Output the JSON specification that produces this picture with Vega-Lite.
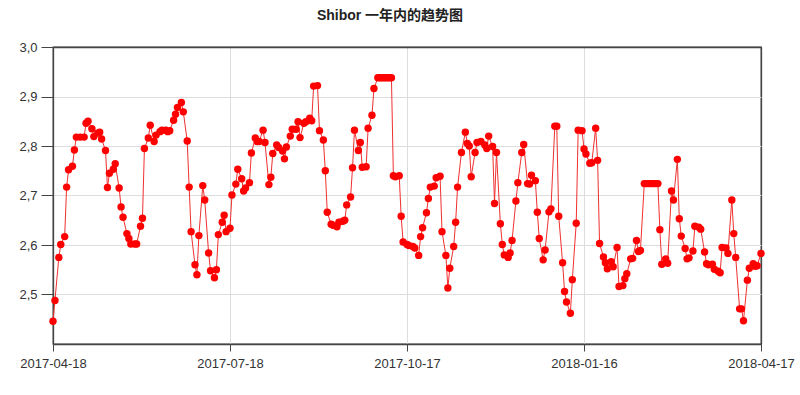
{
  "$schema": "https://vega.github.io/schema/vega-lite/v6.json",
  "autosize": "none",
  "width": 708,
  "height": 297,
  "padding": {"left": 53, "top": 47, "right": 39, "bottom": 51},
  "background": "#ffffff",
  "view": {"stroke": "#444444", "strokeWidth": 1.3},
  "title": {
    "text": "Shibor 一年内的趋势图",
    "font": "Liberation Sans, Noto Sans CJK SC",
    "fontSize": 14,
    "fontWeight": "bold",
    "color": "#222222",
    "anchor": "middle",
    "dx": -17,
    "offset": 18
  },
  "config": {
    "view": {"stroke": "#444444", "strokeWidth": 1.3},
    "axis": {
      "labelFont": "Liberation Sans",
      "labelFontSize": 13,
      "labelColor": "#333333",
      "domainColor": "#444444",
      "domainWidth": 1.3,
      "tickColor": "#444444",
      "gridColor": {"condition": {"test": "datum.index == 1", "value": "#444444"}, "value": "#dddddd"},
      "gridWidth": {"condition": {"test": "datum.index == 1", "value": 1.3}, "value": 1},
      "title": null
    }
  },
  "data": {
    "values": [
      {"date": "2017-04-18", "rate": 2.446},
      {"date": "2017-04-19", "rate": 2.488},
      {"date": "2017-04-21", "rate": 2.575},
      {"date": "2017-04-22", "rate": 2.601},
      {"date": "2017-04-24", "rate": 2.617},
      {"date": "2017-04-25", "rate": 2.717},
      {"date": "2017-04-26", "rate": 2.752},
      {"date": "2017-04-28", "rate": 2.759},
      {"date": "2017-04-29", "rate": 2.792},
      {"date": "2017-04-30", "rate": 2.818},
      {"date": "2017-05-02", "rate": 2.818},
      {"date": "2017-05-04", "rate": 2.818},
      {"date": "2017-05-05", "rate": 2.846},
      {"date": "2017-05-06", "rate": 2.850},
      {"date": "2017-05-08", "rate": 2.835},
      {"date": "2017-05-09", "rate": 2.819},
      {"date": "2017-05-11", "rate": 2.826},
      {"date": "2017-05-12", "rate": 2.828},
      {"date": "2017-05-13", "rate": 2.814},
      {"date": "2017-05-15", "rate": 2.791},
      {"date": "2017-05-16", "rate": 2.716},
      {"date": "2017-05-17", "rate": 2.745},
      {"date": "2017-05-19", "rate": 2.753},
      {"date": "2017-05-20", "rate": 2.764},
      {"date": "2017-05-22", "rate": 2.715},
      {"date": "2017-05-23", "rate": 2.677},
      {"date": "2017-05-24", "rate": 2.656},
      {"date": "2017-05-26", "rate": 2.623},
      {"date": "2017-05-27", "rate": 2.613},
      {"date": "2017-05-28", "rate": 2.602},
      {"date": "2017-05-30", "rate": 2.602},
      {"date": "2017-05-31", "rate": 2.602},
      {"date": "2017-06-02", "rate": 2.638},
      {"date": "2017-06-03", "rate": 2.654},
      {"date": "2017-06-04", "rate": 2.795},
      {"date": "2017-06-06", "rate": 2.816},
      {"date": "2017-06-07", "rate": 2.842},
      {"date": "2017-06-09", "rate": 2.809},
      {"date": "2017-06-10", "rate": 2.822},
      {"date": "2017-06-12", "rate": 2.829},
      {"date": "2017-06-13", "rate": 2.832},
      {"date": "2017-06-15", "rate": 2.832},
      {"date": "2017-06-16", "rate": 2.829},
      {"date": "2017-06-17", "rate": 2.831},
      {"date": "2017-06-19", "rate": 2.852},
      {"date": "2017-06-20", "rate": 2.864},
      {"date": "2017-06-21", "rate": 2.878},
      {"date": "2017-06-23", "rate": 2.888},
      {"date": "2017-06-24", "rate": 2.869},
      {"date": "2017-06-26", "rate": 2.810},
      {"date": "2017-06-27", "rate": 2.717},
      {"date": "2017-06-28", "rate": 2.627},
      {"date": "2017-06-30", "rate": 2.560},
      {"date": "2017-07-01", "rate": 2.540},
      {"date": "2017-07-02", "rate": 2.619},
      {"date": "2017-07-04", "rate": 2.720},
      {"date": "2017-07-05", "rate": 2.691},
      {"date": "2017-07-07", "rate": 2.584},
      {"date": "2017-07-08", "rate": 2.548},
      {"date": "2017-07-10", "rate": 2.534},
      {"date": "2017-07-11", "rate": 2.550},
      {"date": "2017-07-12", "rate": 2.621},
      {"date": "2017-07-14", "rate": 2.646},
      {"date": "2017-07-15", "rate": 2.660},
      {"date": "2017-07-16", "rate": 2.627},
      {"date": "2017-07-18", "rate": 2.634},
      {"date": "2017-07-19", "rate": 2.701},
      {"date": "2017-07-21", "rate": 2.723},
      {"date": "2017-07-22", "rate": 2.753},
      {"date": "2017-07-24", "rate": 2.734},
      {"date": "2017-07-25", "rate": 2.709},
      {"date": "2017-07-26", "rate": 2.715},
      {"date": "2017-07-28", "rate": 2.726},
      {"date": "2017-07-29", "rate": 2.786},
      {"date": "2017-07-31", "rate": 2.816},
      {"date": "2017-08-01", "rate": 2.809},
      {"date": "2017-08-02", "rate": 2.809},
      {"date": "2017-08-04", "rate": 2.832},
      {"date": "2017-08-05", "rate": 2.807},
      {"date": "2017-08-07", "rate": 2.722},
      {"date": "2017-08-08", "rate": 2.737},
      {"date": "2017-08-09", "rate": 2.785},
      {"date": "2017-08-11", "rate": 2.802},
      {"date": "2017-08-12", "rate": 2.797},
      {"date": "2017-08-14", "rate": 2.790},
      {"date": "2017-08-15", "rate": 2.774},
      {"date": "2017-08-16", "rate": 2.798},
      {"date": "2017-08-18", "rate": 2.820},
      {"date": "2017-08-19", "rate": 2.834},
      {"date": "2017-08-21", "rate": 2.834},
      {"date": "2017-08-22", "rate": 2.849},
      {"date": "2017-08-23", "rate": 2.817},
      {"date": "2017-08-25", "rate": 2.846},
      {"date": "2017-08-26", "rate": 2.849},
      {"date": "2017-08-28", "rate": 2.856},
      {"date": "2017-08-29", "rate": 2.851},
      {"date": "2017-08-30", "rate": 2.921},
      {"date": "2017-09-01", "rate": 2.922},
      {"date": "2017-09-02", "rate": 2.831},
      {"date": "2017-09-04", "rate": 2.812},
      {"date": "2017-09-05", "rate": 2.750},
      {"date": "2017-09-06", "rate": 2.666},
      {"date": "2017-09-08", "rate": 2.642},
      {"date": "2017-09-09", "rate": 2.640},
      {"date": "2017-09-11", "rate": 2.637},
      {"date": "2017-09-12", "rate": 2.646},
      {"date": "2017-09-14", "rate": 2.648},
      {"date": "2017-09-15", "rate": 2.650},
      {"date": "2017-09-16", "rate": 2.681},
      {"date": "2017-09-18", "rate": 2.697},
      {"date": "2017-09-19", "rate": 2.756},
      {"date": "2017-09-20", "rate": 2.832},
      {"date": "2017-09-22", "rate": 2.791},
      {"date": "2017-09-23", "rate": 2.807},
      {"date": "2017-09-24", "rate": 2.757},
      {"date": "2017-09-26", "rate": 2.758},
      {"date": "2017-09-27", "rate": 2.836},
      {"date": "2017-09-29", "rate": 2.862},
      {"date": "2017-09-30", "rate": 2.916},
      {"date": "2017-10-02", "rate": 2.938},
      {"date": "2017-10-03", "rate": 2.938},
      {"date": "2017-10-04", "rate": 2.938},
      {"date": "2017-10-05", "rate": 2.938},
      {"date": "2017-10-06", "rate": 2.938},
      {"date": "2017-10-07", "rate": 2.938},
      {"date": "2017-10-08", "rate": 2.938},
      {"date": "2017-10-09", "rate": 2.938},
      {"date": "2017-10-10", "rate": 2.740},
      {"date": "2017-10-11", "rate": 2.738},
      {"date": "2017-10-13", "rate": 2.740},
      {"date": "2017-10-14", "rate": 2.658},
      {"date": "2017-10-15", "rate": 2.606},
      {"date": "2017-10-17", "rate": 2.601},
      {"date": "2017-10-18", "rate": 2.599},
      {"date": "2017-10-20", "rate": 2.597},
      {"date": "2017-10-21", "rate": 2.594},
      {"date": "2017-10-23", "rate": 2.579},
      {"date": "2017-10-24", "rate": 2.617},
      {"date": "2017-10-25", "rate": 2.635},
      {"date": "2017-10-27", "rate": 2.665},
      {"date": "2017-10-28", "rate": 2.694},
      {"date": "2017-10-29", "rate": 2.717},
      {"date": "2017-10-31", "rate": 2.719},
      {"date": "2017-11-01", "rate": 2.736},
      {"date": "2017-11-03", "rate": 2.739},
      {"date": "2017-11-04", "rate": 2.627},
      {"date": "2017-11-06", "rate": 2.579},
      {"date": "2017-11-07", "rate": 2.513},
      {"date": "2017-11-08", "rate": 2.553},
      {"date": "2017-11-10", "rate": 2.597},
      {"date": "2017-11-11", "rate": 2.646},
      {"date": "2017-11-12", "rate": 2.717},
      {"date": "2017-11-14", "rate": 2.787},
      {"date": "2017-11-16", "rate": 2.828},
      {"date": "2017-11-17", "rate": 2.805},
      {"date": "2017-11-18", "rate": 2.800},
      {"date": "2017-11-19", "rate": 2.738},
      {"date": "2017-11-21", "rate": 2.787},
      {"date": "2017-11-22", "rate": 2.807},
      {"date": "2017-11-24", "rate": 2.809},
      {"date": "2017-11-26", "rate": 2.802},
      {"date": "2017-11-27", "rate": 2.795},
      {"date": "2017-11-28", "rate": 2.820},
      {"date": "2017-11-30", "rate": 2.799},
      {"date": "2017-12-01", "rate": 2.684},
      {"date": "2017-12-02", "rate": 2.787},
      {"date": "2017-12-04", "rate": 2.643},
      {"date": "2017-12-05", "rate": 2.601},
      {"date": "2017-12-06", "rate": 2.580},
      {"date": "2017-12-08", "rate": 2.575},
      {"date": "2017-12-09", "rate": 2.584},
      {"date": "2017-12-10", "rate": 2.609},
      {"date": "2017-12-12", "rate": 2.689},
      {"date": "2017-12-13", "rate": 2.726},
      {"date": "2017-12-15", "rate": 2.787},
      {"date": "2017-12-16", "rate": 2.803},
      {"date": "2017-12-18", "rate": 2.724},
      {"date": "2017-12-19", "rate": 2.723},
      {"date": "2017-12-20", "rate": 2.741},
      {"date": "2017-12-22", "rate": 2.730},
      {"date": "2017-12-23", "rate": 2.666},
      {"date": "2017-12-24", "rate": 2.613},
      {"date": "2017-12-26", "rate": 2.570},
      {"date": "2017-12-27", "rate": 2.590},
      {"date": "2017-12-29", "rate": 2.667},
      {"date": "2017-12-30", "rate": 2.673},
      {"date": "2018-01-01", "rate": 2.840},
      {"date": "2018-01-02", "rate": 2.840},
      {"date": "2018-01-03", "rate": 2.658},
      {"date": "2018-01-05", "rate": 2.564},
      {"date": "2018-01-06", "rate": 2.506},
      {"date": "2018-01-07", "rate": 2.485},
      {"date": "2018-01-09", "rate": 2.462},
      {"date": "2018-01-10", "rate": 2.530},
      {"date": "2018-01-12", "rate": 2.644},
      {"date": "2018-01-13", "rate": 2.832},
      {"date": "2018-01-15", "rate": 2.831},
      {"date": "2018-01-16", "rate": 2.794},
      {"date": "2018-01-17", "rate": 2.784},
      {"date": "2018-01-19", "rate": 2.765},
      {"date": "2018-01-20", "rate": 2.766},
      {"date": "2018-01-22", "rate": 2.836},
      {"date": "2018-01-23", "rate": 2.771},
      {"date": "2018-01-24", "rate": 2.603},
      {"date": "2018-01-26", "rate": 2.576},
      {"date": "2018-01-27", "rate": 2.564},
      {"date": "2018-01-28", "rate": 2.552},
      {"date": "2018-01-30", "rate": 2.566},
      {"date": "2018-01-31", "rate": 2.556},
      {"date": "2018-02-02", "rate": 2.595},
      {"date": "2018-02-03", "rate": 2.516},
      {"date": "2018-02-05", "rate": 2.518},
      {"date": "2018-02-06", "rate": 2.532},
      {"date": "2018-02-07", "rate": 2.542},
      {"date": "2018-02-09", "rate": 2.572},
      {"date": "2018-02-10", "rate": 2.573},
      {"date": "2018-02-12", "rate": 2.609},
      {"date": "2018-02-13", "rate": 2.587},
      {"date": "2018-02-14", "rate": 2.589},
      {"date": "2018-02-16", "rate": 2.724},
      {"date": "2018-02-17", "rate": 2.724},
      {"date": "2018-02-18", "rate": 2.724},
      {"date": "2018-02-19", "rate": 2.724},
      {"date": "2018-02-20", "rate": 2.724},
      {"date": "2018-02-21", "rate": 2.724},
      {"date": "2018-02-22", "rate": 2.724},
      {"date": "2018-02-23", "rate": 2.724},
      {"date": "2018-02-24", "rate": 2.631},
      {"date": "2018-02-25", "rate": 2.561},
      {"date": "2018-02-27", "rate": 2.572},
      {"date": "2018-02-28", "rate": 2.563},
      {"date": "2018-03-02", "rate": 2.709},
      {"date": "2018-03-03", "rate": 2.691},
      {"date": "2018-03-05", "rate": 2.773},
      {"date": "2018-03-06", "rate": 2.653},
      {"date": "2018-03-07", "rate": 2.618},
      {"date": "2018-03-09", "rate": 2.593},
      {"date": "2018-03-10", "rate": 2.572},
      {"date": "2018-03-11", "rate": 2.574},
      {"date": "2018-03-13", "rate": 2.588},
      {"date": "2018-03-14", "rate": 2.638},
      {"date": "2018-03-16", "rate": 2.636},
      {"date": "2018-03-17", "rate": 2.632},
      {"date": "2018-03-19", "rate": 2.586},
      {"date": "2018-03-20", "rate": 2.562},
      {"date": "2018-03-21", "rate": 2.560},
      {"date": "2018-03-23", "rate": 2.561},
      {"date": "2018-03-24", "rate": 2.551},
      {"date": "2018-03-26", "rate": 2.547},
      {"date": "2018-03-27", "rate": 2.544},
      {"date": "2018-03-28", "rate": 2.595},
      {"date": "2018-03-30", "rate": 2.594},
      {"date": "2018-03-31", "rate": 2.583},
      {"date": "2018-04-02", "rate": 2.691},
      {"date": "2018-04-03", "rate": 2.623},
      {"date": "2018-04-04", "rate": 2.575},
      {"date": "2018-04-06", "rate": 2.471},
      {"date": "2018-04-07", "rate": 2.471},
      {"date": "2018-04-08", "rate": 2.447},
      {"date": "2018-04-10", "rate": 2.529},
      {"date": "2018-04-11", "rate": 2.553},
      {"date": "2018-04-13", "rate": 2.562},
      {"date": "2018-04-14", "rate": 2.557},
      {"date": "2018-04-15", "rate": 2.558},
      {"date": "2018-04-17", "rate": 2.583}
    ]
  },
  "encoding": {
    "x": {
      "field": "date",
      "type": "temporal",
      "scale": {
        "type": "utc",
        "domain": [
          {"year": 2017, "month": 4, "date": 18, "utc": true},
          {"year": 2018, "month": 4, "date": 17, "utc": true}
        ],
        "nice": false
      },
      "axis": {
        "values": [
          {"year": 2017, "month": 4, "date": 18, "utc": true},
          {"year": 2017, "month": 7, "date": 18, "utc": true},
          {"year": 2017, "month": 10, "date": 17, "utc": true},
          {"year": 2018, "month": 1, "date": 16, "utc": true},
          {"year": 2018, "month": 4, "date": 17, "utc": true}
        ],
        "labelExpr": "utcFormat(datum.value, '%Y-%m-%d')",
        "tickSize": 7,
        "labelPadding": 6,
        "labelOverlap": false,
        "labelFlush": false
      }
    },
    "y": {
      "field": "rate",
      "type": "quantitative",
      "scale": {"domain": [2.4, 3.0], "nice": false, "zero": false},
      "axis": {
        "values": [2.5, 2.6, 2.7, 2.8, 2.9, 3.0],
        "labelExpr": "replace(format(datum.value, '.1f'), '.', ',')",
        "tickSize": 12,
        "labelPadding": 4
      }
    }
  },
  "layer": [
    {
      "mark": {"type": "line", "color": "#f03030", "strokeWidth": 1}
    },
    {
      "mark": {"type": "point", "filled": true, "color": "#ff0000", "opacity": 1, "size": 55}
    }
  ]
}
